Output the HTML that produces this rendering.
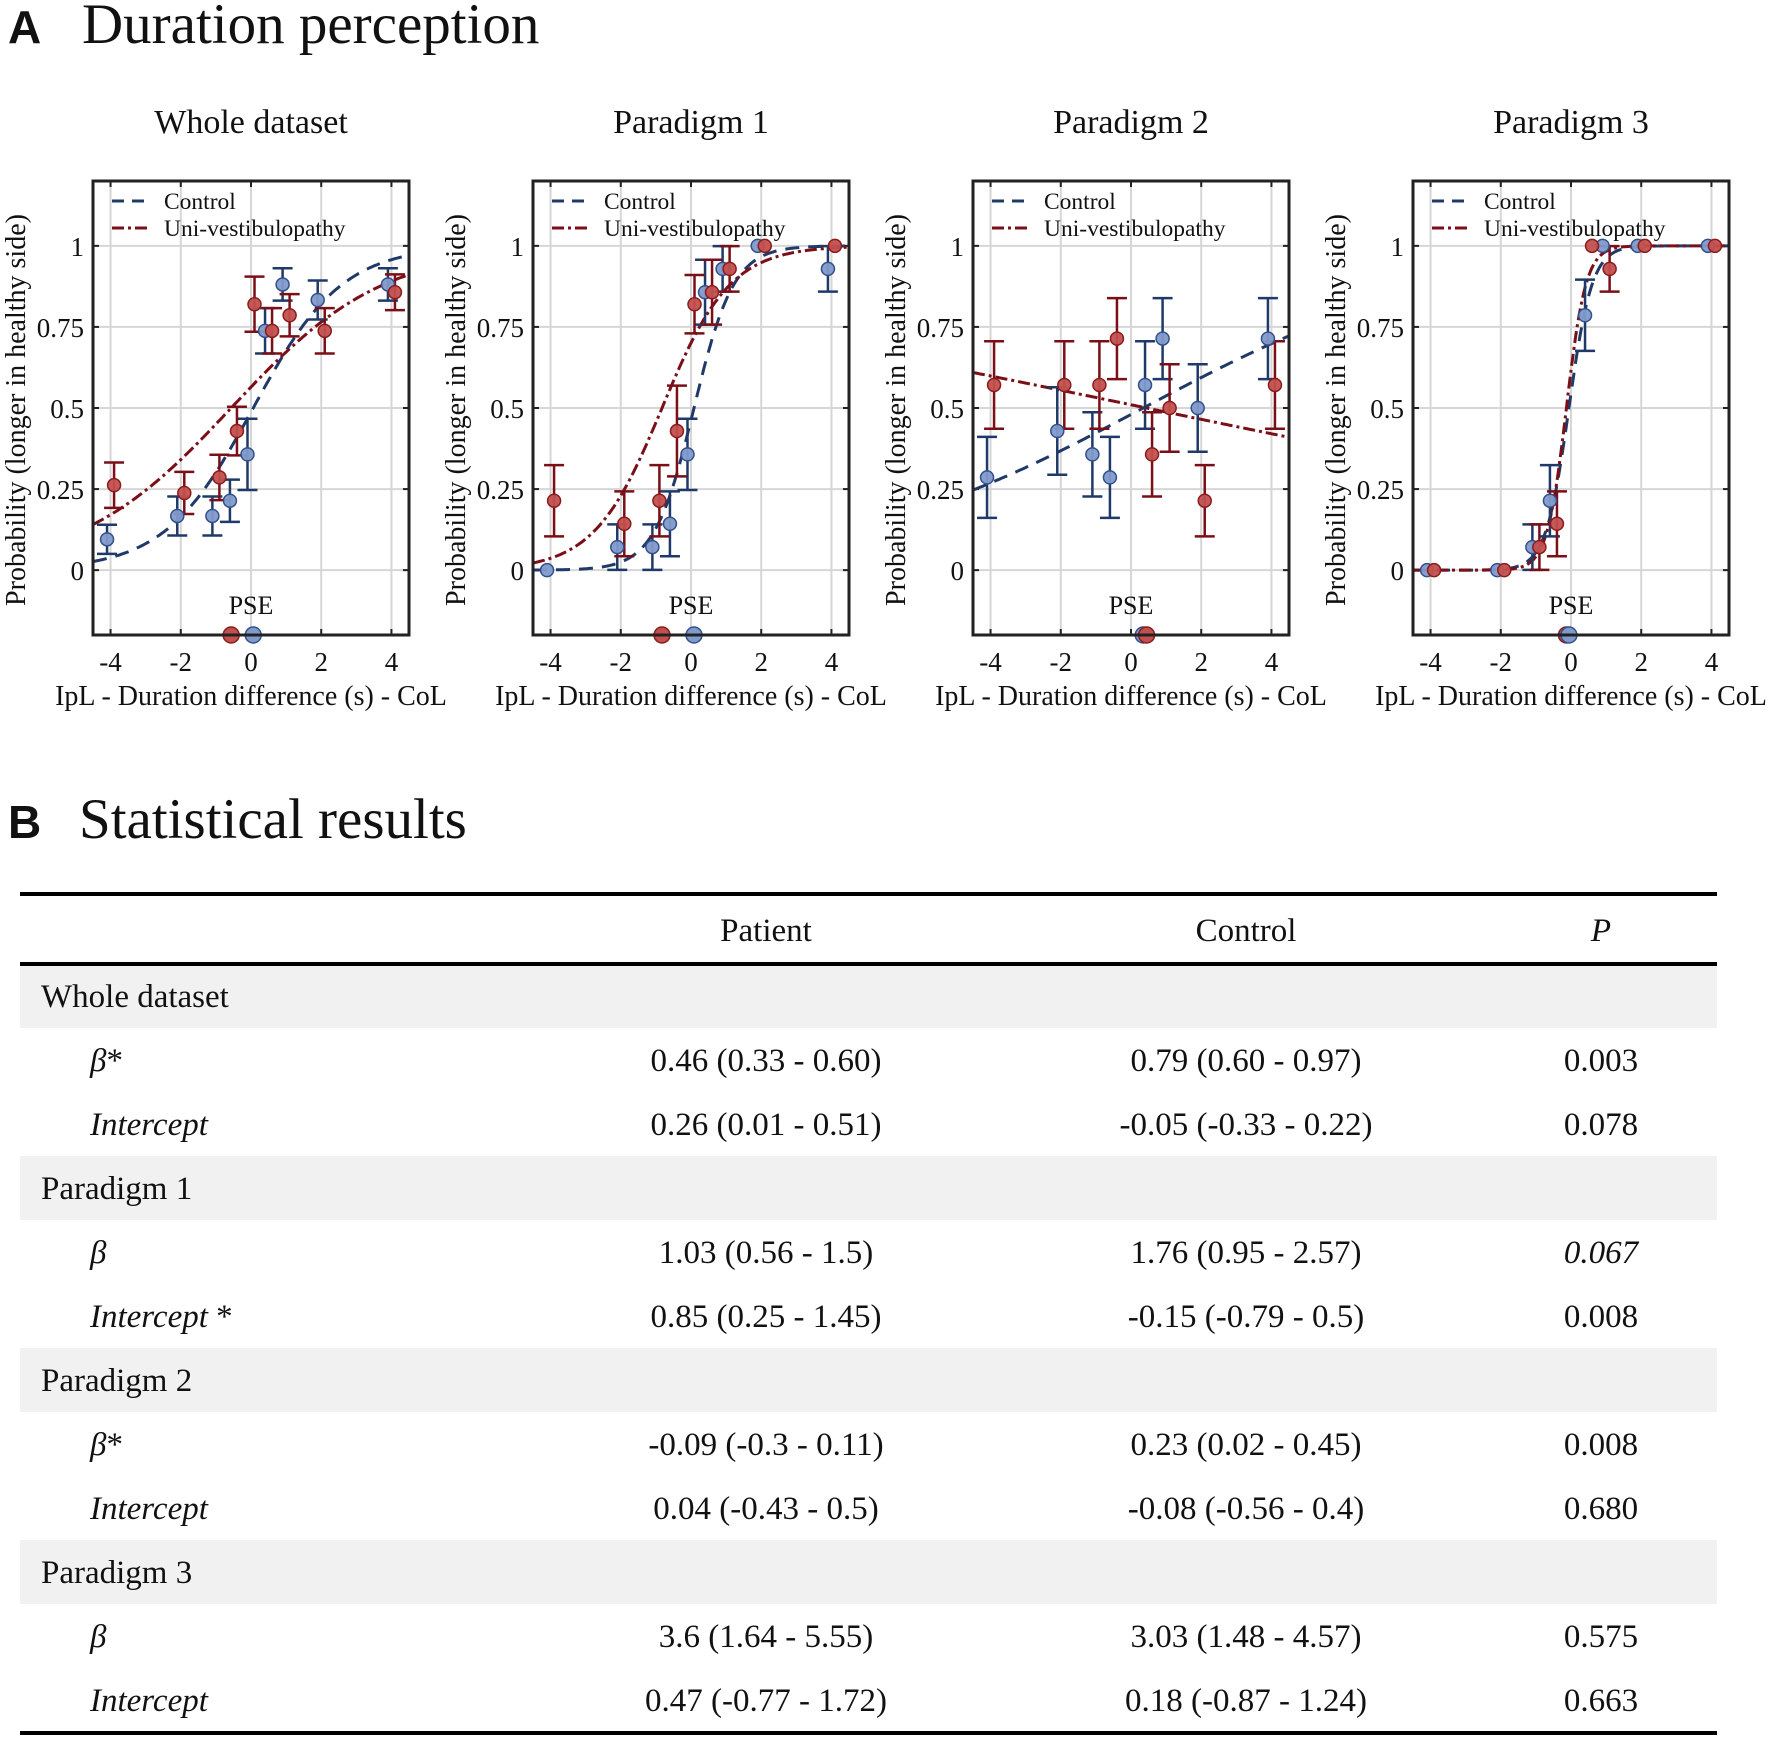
<!DOCTYPE html>
<html><head><meta charset="utf-8"><style>
html,body{margin:0;padding:0;background:#fff;}
body{width:1772px;height:1738px;position:relative;overflow:hidden;font-family:"Liberation Serif",serif;}
svg text{font-family:"Liberation Serif",serif;fill:#111;}
</style></head><body>
<svg id="fig" width="1772" height="1738" viewBox="0 0 1772 1738" xmlns="http://www.w3.org/2000/svg">
<text x="8" y="43" style="font-family:'Liberation Sans',sans-serif;font-weight:bold;font-size:46px">A</text>
<text x="82" y="43" font-size="57">Duration perception</text>
<text x="8" y="838" style="font-family:'Liberation Sans',sans-serif;font-weight:bold;font-size:46px">B</text>
<text x="79" y="838" font-size="57">Statistical results</text>
<g id="charts"></g>
<g id="table"></g>
</svg>
<script>
// ---- chart data ----
const panelTitles = ["Whole dataset","Paradigm 1","Paradigm 2","Paradigm 3"];
const xLevels1 = [-4,-2,-1,-0.5,0,0.5,1,2,4];
const ctrlY1 = [0.095,0.167,0.167,0.214,0.357,0.738,0.881,0.833,0.881];
const ctrlErr1 = [0.045,0.06,0.06,0.065,0.11,0.07,0.05,0.06,0.05];
const patY1 = [0.262,0.238,0.286,0.429,0.82,0.738,0.786,0.738,0.857];
const patErr1 = [0.07,0.065,0.07,0.075,0.085,0.07,0.065,0.07,0.055];
const xLevels2 = [-4,-2,-1,-0.5,0,0.5,1,2,4];
const ctrlY2 = [0,0.071,0.071,0.143,0.357,0.857,0.929,1,0.929];
const ctrlErr2 = [0,0.07,0.07,0.1,0.11,0.1,0.07,0,0.07];
const patY2 = [0.214,0.143,0.214,0.429,0.82,0.857,0.929,1,1];
const patErr2 = [0.11,0.1,0.11,0.14,0.09,0.1,0.07,0,0];
const xLevels3 = [-4,-2,-1,-0.5,0.5,1,2,4];
const ctrlY3 = [0.286,0.429,0.357,0.286,0.571,0.714,0.5,0.714];
const ctrlErr3 = [0.125,0.135,0.13,0.125,0.135,0.125,0.135,0.125];
const patY3 = [0.571,0.571,0.571,0.714,0.357,0.5,0.214,0.571];
const patErr3 = [0.135,0.135,0.135,0.125,0.13,0.135,0.11,0.135];
const xLevels4 = [-4,-2,-1,-0.5,0.5,1,2,4];
const ctrlY4 = [0,0,0.071,0.214,0.786,1,1,1];
const ctrlErr4 = [0,0,0.07,0.11,0.11,0,0,0];
const patY4 = [0,0,0.071,0.143,1,0.929,1,1];
const patErr4 = [0,0,0.07,0.1,0,0.07,0,0];
const ctrlBeta = [0.79,1.76,0.23,3.03];
const ctrlIntercept = [-0.05,-0.15,-0.08,0.18];
const patBeta = [0.46,1.03,-0.09,3.6];
const patIntercept = [0.26,0.85,0.04,0.47];
const xTicks = [-4,-2,0,2,4];
const yTicks = [0,0.25,0.5,0.75,1];
const yTickLabels = ["0","0.25","0.5","0.75","1"];

const panels = [
 {x:xLevels1,cy:ctrlY1,ce:ctrlErr1,py:patY1,pe:patErr1},
 {x:xLevels2,cy:ctrlY2,ce:ctrlErr2,py:patY2,pe:patErr2},
 {x:xLevels3,cy:ctrlY3,ce:ctrlErr3,py:patY3,pe:patErr3},
 {x:xLevels4,cy:ctrlY4,ce:ctrlErr4,py:patY4,pe:patErr4}
];
const NS="http://www.w3.org/2000/svg";
function mk(tag,attrs,parent){const e=document.createElementNS(NS,tag);for(const k in attrs)e.setAttribute(k,attrs[k]);parent.appendChild(e);return e;}
const lefts=[93,533,973,1413], W=316, TOP=181, H=454;
const XMIN=-4.5,XMAX=4.5,YMIN=-0.2,YMAX=1.2;
const CTRL_LINE="#1f3a68", CTRL_FILL="#7f9acb", CTRL_EDGE="#34508a";
const PAT_LINE="#7a0f18", PAT_FILL="#c2504e", PAT_EDGE="#8a1c1c";
const charts=document.getElementById('charts');
panels.forEach((p,i)=>{
  const L=lefts[i];
  const sx=v=>L+(v-XMIN)/(XMAX-XMIN)*W;
  const sy=v=>TOP+H-(v-YMIN)/(YMAX-YMIN)*H;
  const g=mk('g',{},charts);
  
  
  const t=mk('text',{x:L+W/2,y:133,'text-anchor':'middle','font-size':34},g);t.textContent=panelTitles[i];
  
  
  const clipId='clip'+i;
  const cp=mk('clipPath',{id:clipId},g);mk('rect',{x:L,y:TOP,width:W,height:H},cp);
  xTicks.forEach(v=>{const l=mk('line',{x1:sx(v),x2:sx(v),y1:TOP,y2:TOP+H,stroke:'#d6d6d6','stroke-width':2},g);
    
    mk('line',{x1:sx(v),x2:sx(v),y1:TOP,y2:TOP+6,stroke:'#222','stroke-width':2},g);
    mk('line',{x1:sx(v),x2:sx(v),y1:TOP+H,y2:TOP+H-6,stroke:'#222','stroke-width':2},g);
    const tl=mk('text',{x:sx(v),y:671,'text-anchor':'middle','font-size':27},g);tl.textContent=v;
    });
  yTicks.forEach((v,k)=>{const l=mk('line',{x1:L,x2:L+W,y1:sy(v),y2:sy(v),stroke:'#d6d6d6','stroke-width':2},g);
    
    mk('line',{x1:L,x2:L+6,y1:sy(v),y2:sy(v),stroke:'#222','stroke-width':2},g);
    mk('line',{x1:L+W,x2:L+W-6,y1:sy(v),y2:sy(v),stroke:'#222','stroke-width':2},g);
    const tl=mk('text',{x:L-9,y:sy(v)+10,'text-anchor':'end','font-size':27},g);tl.textContent=yTickLabels[k];
    });
  const yl=mk('text',{x:0,y:0,'text-anchor':'middle','font-size':28,transform:`translate(${L-68},${TOP+H/2+2}) rotate(-90)`},g);
  yl.textContent='Probability (longer in healthy side)';
  
  const xl=mk('text',{x:L+W/2,y:705,'text-anchor':'middle','font-size':28},g);
  xl.textContent='IpL - Duration difference (s) - CoL';
  
  const cg=mk('g',{'clip-path':`url(#${clipId})`},g);
  function curve(b,a,color,dash,name){let d='';for(let k=0;k<=200;k++){const x=XMIN+(XMAX-XMIN)*k/200;const y=1/(1+Math.exp(-(b*x+a)));d+=(k?'L':'M')+sx(x).toFixed(1)+','+sy(y).toFixed(1);}
    const pth=mk('path',{d:d,fill:'none',stroke:color,'stroke-width':3,'stroke-dasharray':dash},cg);
    }
  curve(ctrlBeta[i],ctrlIntercept[i],CTRL_LINE,'14 9','control-fit-curve');
  curve(patBeta[i],patIntercept[i],PAT_LINE,'12 4 3 4','patient-fit-curve');
  function pts(ys,es,off,line,fill,edge,name){p.x.forEach((xv,k)=>{const X=sx(xv+off),y=ys[k],e=es[k];
    if(e>0){mk('line',{x1:X,x2:X,y1:sy(y-e),y2:sy(y+e),stroke:line,'stroke-width':2.5},cg);
      mk('line',{x1:X-10,x2:X+10,y1:sy(y-e),y2:sy(y-e),stroke:line,'stroke-width':2.5},cg);
      mk('line',{x1:X-10,x2:X+10,y1:sy(y+e),y2:sy(y+e),stroke:line,'stroke-width':2.5},cg);}
    const c=mk('circle',{cx:X,cy:sy(y),r:6.5,fill:fill,stroke:edge,'stroke-width':1.5,'fill-opacity':0.95},g);
    });}
  pts(p.cy,p.ce,-0.1,CTRL_LINE,CTRL_FILL,CTRL_EDGE,'control-point');
  pts(p.py,p.pe,0.1,PAT_LINE,PAT_FILL,PAT_EDGE,'patient-point');
  const pl=mk('text',{x:sx(0),y:614,'text-anchor':'middle','font-size':26},g);pl.textContent='PSE';
  
  const pc=mk('circle',{cx:sx(-patIntercept[i]/patBeta[i]),cy:TOP+H,r:8,fill:PAT_FILL,stroke:PAT_EDGE,'stroke-width':1.5},g);
  
  const cc=mk('circle',{cx:sx(-ctrlIntercept[i]/ctrlBeta[i]),cy:TOP+H,r:8,fill:CTRL_FILL,stroke:CTRL_EDGE,'stroke-width':1.5},g);
  
  if(i==2){g.appendChild(pc);}
  mk('rect',{x:L,y:TOP,width:W,height:H,fill:'none',stroke:'#222','stroke-width':3},g);
  const lg=mk('g',{},g);
  mk('line',{x1:L+19,x2:L+57,y1:201,y2:201,stroke:CTRL_LINE,'stroke-width':3,'stroke-dasharray':'12 8'},lg);
  const l1=mk('text',{x:L+71,y:209,'font-size':23.5},lg);l1.textContent='Control';
  
  mk('line',{x1:L+19,x2:L+57,y1:228,y2:228,stroke:PAT_LINE,'stroke-width':3,'stroke-dasharray':'12 4 3 4'},lg);
  const l2=mk('text',{x:L+71,y:236,'font-size':23.5},lg);l2.textContent='Uni-vestibulopathy';
  
});

// ---- table ----
const rows=[
 ["g","Whole dataset"],
 ["r","β*","0.46 (0.33 - 0.60)","0.79 (0.60 - 0.97)","0.003",false],
 ["r","Intercept","0.26 (0.01 - 0.51)","-0.05 (-0.33 - 0.22)","0.078",false],
 ["g","Paradigm 1"],
 ["r","β","1.03 (0.56 - 1.5)","1.76 (0.95 - 2.57)","0.067",true],
 ["r","Intercept *","0.85 (0.25 - 1.45)","-0.15 (-0.79 - 0.5)","0.008",false],
 ["g","Paradigm 2"],
 ["r","β*","-0.09 (-0.3 - 0.11)","0.23 (0.02 - 0.45)","0.008",false],
 ["r","Intercept","0.04 (-0.43 - 0.5)","-0.08 (-0.56 - 0.4)","0.680",false],
 ["g","Paradigm 3"],
 ["r","β","3.6 (1.64 - 5.55)","3.03 (1.48 - 4.57)","0.575",false],
 ["r","Intercept","0.47 (-0.77 - 1.72)","0.18 (-0.87 - 1.24)","0.663",false]
];
const tb=document.getElementById('table');
const TL=20,TR=1717,RH=64,R0=964;
const cols=[766,1246,1601];
const FS=33;
rows.forEach((r,k)=>{const y=R0+k*RH;
  const rg=mk('g',{},tb);
  
  
  if(r[0]=='g'){mk('rect',{x:TL,y:y,width:TR-TL,height:RH,fill:'#f1f1f1'},rg);
    const t=mk('text',{x:41,y:y+43,'font-size':FS},rg);t.textContent=r[1];}
  else{const t=mk('text',{x:90,y:y+43,'font-size':FS,'font-style':'italic'},rg);
    if(r[1]=="Intercept *"){t.textContent="Intercept ";const s=mk('tspan',{'font-style':'normal'},t);s.textContent="*";}
    else if(r[1]=="β*"){t.textContent="β";const s=mk('tspan',{'font-style':'normal'},t);s.textContent="*";}
    else t.textContent=r[1];
    [r[2],r[3],r[4]].forEach((v,j)=>{const c=mk('text',{x:cols[j],y:y+43,'font-size':FS,'text-anchor':'middle'},rg);
      if(j==2&&r[5])c.setAttribute('font-style','italic');c.textContent=v;});}
});
const hd=mk('g',{},tb);
[["Patient",0],["Control",1],["P",2]].forEach(([s,j])=>{const t=mk('text',{x:cols[j],y:941,'font-size':FS,'text-anchor':'middle'},hd);
  if(s=="P")t.setAttribute('font-style','italic');t.textContent=s;});
mk('line',{x1:TL,x2:TR,y1:894,y2:894,stroke:'#000','stroke-width':4},tb);
mk('line',{x1:TL,x2:TR,y1:964,y2:964,stroke:'#000','stroke-width':4},tb);
mk('line',{x1:TL,x2:TR,y1:1733,y2:1733,stroke:'#000','stroke-width':4},tb);
</script>
</body></html>
